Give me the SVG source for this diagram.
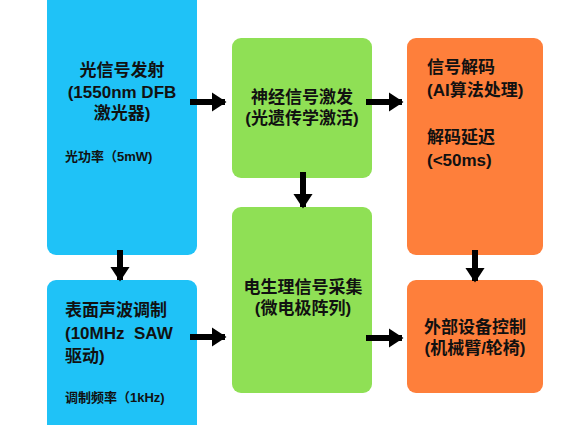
<svg xmlns="http://www.w3.org/2000/svg" width="567" height="425" viewBox="0 0 567 425">
<defs>
<style>
.t{font-family:"Liberation Sans","Noto Sans CJK SC",sans-serif;font-weight:bold;font-size:17px;fill:#111}
.s{font-family:"Liberation Sans","Noto Sans CJK SC",sans-serif;font-weight:bold;font-size:13px;fill:#111}
.c{text-anchor:middle}
.blue{fill:#1FC2F7}
.green{fill:#8FE055}
.orange{fill:#FE7F3B}
.ln{stroke:#000;stroke-width:6;fill:none}
</style>
<marker id="ah" viewBox="0 0 10 10" refX="9" refY="5" markerWidth="2.5" markerHeight="3.3" orient="auto" markerUnits="strokeWidth" preserveAspectRatio="none">
<path d="M0,0 L10,5 L0,10 z" fill="#000"/>
</marker>
</defs>
<rect width="567" height="425" fill="#fff"/>
<g id="n1">
<rect class="blue" x="47" y="-20" width="150" height="275" rx="9"/>
<text class="t c" x="122" y="76">光信号发射</text>
<text class="t c" x="122" y="98">(1550nm DFB</text>
<text class="t c" x="122" y="119">激光器)</text>
<text class="s" x="65" y="161">光功率（5mW)</text>
</g>
<g id="n2">
<rect class="blue" x="47" y="280" width="150" height="170" rx="9"/>
<text class="t" x="65" y="316">表面声波调制</text>
<text class="t" x="65" y="339" xml:space="preserve">(10MHz  SAW</text>
<text class="t" x="65" y="362">驱动)</text>
<text class="s" x="65" y="402">调制频率（1kHz)</text>
</g>
<g id="n3">
<rect class="green" x="232" y="38" width="140" height="140" rx="9"/>
<text class="t c" x="302" y="103">神经信号激发</text>
<text class="t c" x="302" y="124">(光遗传学激活)</text>
</g>
<g id="n4">
<rect class="green" x="232" y="207" width="140" height="186" rx="9"/>
<text class="t c" x="303" y="293">电生理信号采集</text>
<text class="t c" x="303" y="314">(微电极阵列)</text>
</g>
<g id="n5">
<rect class="orange" x="407" y="38" width="136" height="217" rx="9"/>
<text class="t" x="427" y="73">信号解码</text>
<text class="t" x="427" y="96">(AI算法处理)</text>
<text class="t" x="427" y="143">解码延迟</text>
<text class="t" x="427" y="166">(&lt;50ms)</text>
</g>
<g id="n6">
<rect class="orange" x="407" y="280" width="136" height="113" rx="9"/>
<text class="t c" x="475" y="333">外部设备控制</text>
<text class="t c" x="475" y="354">(机械臂/轮椅)</text>
</g>
<g id="connectors">
<line class="ln" x1="190" y1="102" x2="225" y2="102" marker-end="url(#ah)"/>
<line class="ln" x1="366" y1="102" x2="402" y2="102" marker-end="url(#ah)"/>
<line class="ln" x1="120" y1="250" x2="120" y2="280" marker-end="url(#ah)"/>
<line class="ln" x1="303" y1="172" x2="303" y2="207" marker-end="url(#ah)"/>
<line class="ln" x1="475" y1="250" x2="475" y2="281" marker-end="url(#ah)"/>
<line class="ln" x1="190" y1="337" x2="225" y2="337" marker-end="url(#ah)"/>
<line class="ln" x1="366" y1="338" x2="402" y2="338" marker-end="url(#ah)"/>
</g>
</svg>
